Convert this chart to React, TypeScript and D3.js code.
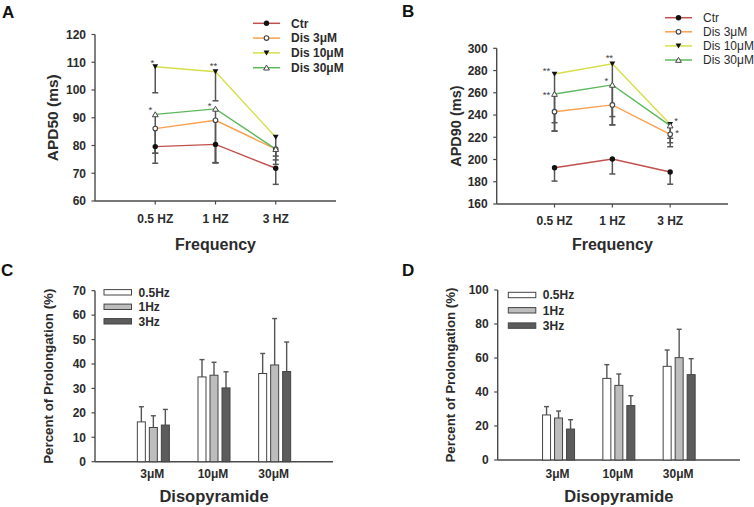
import React from 'react';
import * as d3 from 'd3';

// ---------- data ----------
const freqCats = ['0.5 HZ', '1 HZ', '3 HZ'];
const seriesNames = ['Ctr', 'Dis 3μM', 'Dis 10μM', 'Dis 30μM'];

const apd50Ctr = [79.6, 80.4, 71.8];
const apd50Dis3 = [86.1, 89.1, 78.7];
const apd50Dis10 = [108.4, 106.6, 83.0];
const apd50Dis30 = [91.2, 93.2, 78.7];
const apd50CtrErr = [6.0, 6.6, 5.8];
const apd50Dis3Err = [8.9, 15.3, 3.9];
const apd50Dis10Err = [9.4, 10.5, 6.8];
const apd50Dis30Err = [14.0, 19.4, 5.5];

const apd90Ctr = [192.6, 200.5, 188.8];
const apd90Dis3 = [243.0, 249.1, 222.7];
const apd90Dis10 = [276.9, 286.0, 231.7];
const apd90Dis30 = [258.9, 267.1, 230.5];
const apd90CtrErr = [12.0, 13.5, 11.0];
const apd90Dis3Err = [9.9, 10.5, 3.6];
const apd90Dis10Err = [51.3, 54.8, 16.6];
const apd90Dis30Err = [33.3, 36.0, 19.0];

const apd50Ticks = [60, 70, 80, 90, 100, 110, 120];
const apd90Ticks = [160, 180, 200, 220, 240, 260, 280, 300];

const doseCats = ['3μM', '10μM', '30μM'];
const freqSeries = ['0.5Hz', '1Hz', '3Hz'];

const prolC05 = [16.3, 34.7, 36.1];
const prolC1 = [14.0, 35.4, 39.6];
const prolC3 = [15.0, 30.2, 36.9];
const prolC05Err = [6.2, 7.1, 8.2];
const prolC1Err = [4.8, 5.3, 19.0];
const prolC3Err = [6.4, 6.6, 12.1];

const prolD05 = [26.5, 48.0, 55.1];
const prolD1 = [24.7, 43.9, 60.2];
const prolD3 = [18.2, 32.0, 50.2];
const prolD05Err = [4.9, 8.1, 9.6];
const prolD1Err = [4.1, 6.7, 16.7];
const prolD3Err = [5.5, 5.8, 9.4];

const prolCTicks = [0, 10, 20, 30, 40, 50, 60, 70];
const prolDTicks = [0, 20, 40, 60, 80, 100];

// significance marks: [category index, series index, label]
const sigA: [number, number, string][] = [[0, 2, '*'], [0, 3, '*'], [1, 2, '**'], [1, 3, '*']];
const sigB: [number, number, string][] = [[0, 2, '**'], [0, 3, '**'], [1, 2, '**'], [1, 3, '*'], [2, 2, '*'], [2, 3, '*']];

// ---------- styles ----------
const FONT = 'Liberation Sans, Arial, Helvetica, sans-serif';
const AXIS = '#4a4a4a';
const TXT = '#2b2b2b';
const lineColors = ['#c0504d', '#f9a04f', '#d6df4a', '#5cb85c'];
const barFills = ['#ffffff', '#bdbdbd', '#5c5c5c'];

const sigOffsetA = [[-3, -6], [-5, -7], [-2, -8], [-6, -5]];
const sigOffsetB = [[-8, -5], [-8, -2], [-3, -8], [-6, -6], [6, -6], [7, 5]];

function Marker({ kind, x, y }: { kind: number; x: number; y: number }) {
  if (kind === 0) return <circle cx={x} cy={y} r={2.7} fill="#111" />;
  if (kind === 1) return <circle cx={x} cy={y} r={2.3} fill="#fff" stroke="#444" strokeWidth={1.1} />;
  const s = 2.9;
  if (kind === 2)
    return <path d={`M${x - s},${y - s * 0.8}L${x + s},${y - s * 0.8}L${x},${y + s * 0.9}Z`} fill="#111" />;
  return (
    <path d={`M${x - s},${y + s * 0.8}L${x + s},${y + s * 0.8}L${x},${y - s * 0.9}Z`} fill="#fff" stroke="#444" strokeWidth={1} />
  );
}

type LineProps = {
  x0: number; x1: number; yTop: number; yBot: number; domain: [number, number]; ticks: number[];
  values: number[][]; errs: number[][]; sig: [number, number, string][]; sigOff: number[][];
  yLabel: string; yLabelX: number; yLabelSize: number; tickLabelY: number;
  legendX: number; legendY: number; legendStep: number; legendBold: boolean; letter: string; letterX: number; letterY: number;
};

function LinePanel(p: LineProps) {
  const x = d3.scalePoint<string>().domain(freqCats).range([p.x0, p.x1]).padding(1);
  const y = d3.scaleLinear().domain(p.domain).range([p.yBot, p.yTop]);
  const line = d3.line<number>().x((_, i) => x(freqCats[i])!).y((v) => y(v));
  return (
    <g fontFamily={FONT}>
      <text x={p.letterX} y={p.letterY} fontSize={17} fontWeight="bold" fill="#111">{p.letter}</text>
      {/* axes */}
      <line x1={p.x0} x2={p.x0} y1={p.yTop} y2={p.yBot} stroke={AXIS} strokeWidth={1.4} />
      <line x1={p.x0} x2={p.x1} y1={p.yBot} y2={p.yBot} stroke={AXIS} strokeWidth={1.4} />
      {p.ticks.map((t) => (
        <g key={t}>
          <line x1={p.x0 - 3.5} x2={p.x0} y1={y(t)} y2={y(t)} stroke={AXIS} strokeWidth={1.2} />
          <text x={p.x0 - 9} y={y(t) + 4.3} textAnchor="end" fontSize={12} fontWeight="bold" fill={TXT}>{t}</text>
        </g>
      ))}
      {freqCats.map((c) => (
        <g key={c}>
          <line x1={x(c)} x2={x(c)} y1={p.yBot} y2={p.yBot + 3.5} stroke={AXIS} strokeWidth={1.2} />
          <text x={x(c)} y={p.tickLabelY} textAnchor="middle" fontSize={12} fontWeight="bold" fill={TXT}>{c}</text>
        </g>
      ))}
      <text x={(p.x0 + p.x1) / 2} y={250} textAnchor="middle" fontSize={16} fontWeight="bold" fill={TXT}>Frequency</text>
      <text transform={`translate(${p.yLabelX},${(p.yTop + p.yBot) / 2}) rotate(-90)`} textAnchor="middle"
        dominantBaseline="central" fontSize={p.yLabelSize} fontWeight="bold" fill={TXT}>{p.yLabel}</text>
      {/* lines */}
      {p.values.map((vals, si) => (
        <path key={'l' + si} d={line(vals) || ''} fill="none" stroke={lineColors[si]} strokeWidth={1.4} />
      ))}
      {/* error bars (downward) */}
      {p.values.map((vals, si) =>
        vals.map((v, ci) => {
          const cx = x(freqCats[ci])!;
          const yl = y(v - p.errs[si][ci]);
          return (
            <g key={`e${si}-${ci}`} stroke="#555" strokeWidth={1.5}>
              <line x1={cx} x2={cx} y1={y(v)} y2={yl} />
              <line x1={cx - 3} x2={cx + 3} y1={yl} y2={yl} />
            </g>
          );
        })
      )}
      {/* markers */}
      {p.values.map((vals, si) =>
        vals.map((v, ci) => <Marker key={`m${si}-${ci}`} kind={si} x={x(freqCats[ci])!} y={y(v)} />)
      )}
      {/* significance */}
      {p.sig.map(([ci, si, lab], k) => (
        <text key={'s' + k} x={x(freqCats[ci])! + p.sigOff[k][0]} y={y(p.values[si][ci]) + p.sigOff[k][1] + 5.5}
          textAnchor="middle" fontSize={9.5} fill="#444">{lab}</text>
      ))}
      {/* legend */}
      {seriesNames.map((n, si) => {
        const ly = p.legendY + si * p.legendStep;
        return (
          <g key={'lg' + si}>
            <line x1={p.legendX} x2={p.legendX + 27} y1={ly} y2={ly} stroke={lineColors[si]} strokeWidth={1.5} />
            <Marker kind={si} x={p.legendX + 13.5} y={ly} />
            <text x={p.legendX + 38} y={ly + 4.3} fontSize={12} fontWeight={p.legendBold ? 'bold' : 'normal'} fill={TXT}>{n}</text>
          </g>
        );
      })}
    </g>
  );
}

type BarProps = {
  x0: number; x1: number; yTop: number; yBot: number; domainMax: number; ticks: number[];
  values: number[][]; errs: number[][]; pad: number;
  legendX: number; legendY: number; legendStep: number; letter: string; letterX: number; letterY: number;
};

function BarPanel(p: BarProps) {
  const x = d3.scalePoint<string>().domain(doseCats).range([p.x0, p.x1]).padding(p.pad);
  const inner = d3.scaleBand<string>().domain(freqSeries).range([-18, 18]).paddingInner(1 / 3).paddingOuter(1 / 6);
  const y = d3.scaleLinear().domain([0, p.domainMax]).range([p.yBot, p.yTop]);
  return (
    <g fontFamily={FONT}>
      <text x={p.letterX} y={p.letterY} fontSize={17} fontWeight="bold" fill="#111">{p.letter}</text>
      <line x1={p.x0} x2={p.x0} y1={p.yTop} y2={p.yBot} stroke={AXIS} strokeWidth={1.4} />
      <line x1={p.x0} x2={p.x1} y1={p.yBot} y2={p.yBot} stroke={AXIS} strokeWidth={1.4} />
      {p.ticks.map((t) => (
        <g key={t}>
          <line x1={p.x0 - 3.5} x2={p.x0} y1={y(t)} y2={y(t)} stroke={AXIS} strokeWidth={1.2} />
          <text x={p.x0 - 9} y={y(t) + 4.3} textAnchor="end" fontSize={12} fontWeight="bold" fill={TXT}>{t}</text>
        </g>
      ))}
      {doseCats.map((c) => (
        <text key={c} x={x(c)! - 1} y={477.5} textAnchor="middle" fontSize={12} fontWeight="bold" fill={TXT}>{c}</text>
      ))}
      <text x={(p.x0 + p.x1) / 2} y={502} textAnchor="middle" fontSize={16.5} fontWeight="bold" fill={TXT}>Disopyramide</text>
      <text transform={`translate(${p.x0 - 47},${(p.yTop + p.yBot) / 2}) rotate(-90)`} textAnchor="middle"
        dominantBaseline="central" fontSize={13.3} fontWeight="bold" fill={TXT}>Percent of Prolongation (%)</text>
      {p.values.map((vals, si) =>
        vals.map((v, ci) => {
          const bx = x(doseCats[ci])! + inner(freqSeries[si])!;
          const bw = inner.bandwidth();
          const cx = bx + bw / 2;
          const ye = y(v + p.errs[si][ci]);
          return (
            <g key={`b${si}-${ci}`}>
              <line x1={cx} x2={cx} y1={y(v)} y2={ye} stroke="#555" strokeWidth={1.4} />
              <line x1={cx - 2.5} x2={cx + 2.5} y1={ye} y2={ye} stroke="#555" strokeWidth={1.4} />
              <rect x={bx} y={y(v)} width={bw} height={p.yBot - y(v)} fill={barFills[si]} stroke="#444" strokeWidth={1} />
            </g>
          );
        })
      )}
      {freqSeries.map((n, si) => {
        const ly = p.legendY + si * p.legendStep;
        return (
          <g key={'lg' + si}>
            <rect x={p.legendX} y={ly - 2.7} width={27.5} height={5.4} fill={barFills[si]} stroke="#444" strokeWidth={1} />
            <text x={p.legendX + 34.5} y={ly + 4.3} fontSize={12} fontWeight="bold" fill={TXT}>{n}</text>
          </g>
        );
      })}
    </g>
  );
}

export default function App() {
  return (
    <svg width={754} height={507} style={{ position: 'absolute', left: 0, top: 0, background: '#fff' }}>
      <rect width={754} height={507} fill="#fff" />
      <LinePanel x0={95} x1={336} yTop={34.5} yBot={201} domain={[60, 120]} ticks={apd50Ticks}
        values={[apd50Ctr, apd50Dis3, apd50Dis10, apd50Dis30]}
        errs={[apd50CtrErr, apd50Dis3Err, apd50Dis10Err, apd50Dis30Err]}
        sig={sigA} sigOff={sigOffsetA} yLabel="APD50 (ms)" yLabelX={52} yLabelSize={15.5} tickLabelY={222.5}
        legendX={253} legendY={23.3} legendStep={14.8} legendBold={true} letter="A" letterX={2} letterY={18} />
      <LinePanel x0={496.7} x1={728} yTop={48.3} yBot={204} domain={[160, 300]} ticks={apd90Ticks}
        values={[apd90Ctr, apd90Dis3, apd90Dis10, apd90Dis30]}
        errs={[apd90CtrErr, apd90Dis3Err, apd90Dis10Err, apd90Dis30Err]}
        sig={sigB} sigOff={sigOffsetB} yLabel="APD90 (ms)" yLabelX={456} yLabelSize={14.5} tickLabelY={224.5}
        legendX={665} legendY={17.7} legendStep={14.1} legendBold={false} letter="B" letterX={402} letterY={17} />
      <BarPanel x0={95} x1={333} yTop={290.7} yBot={461.7} domainMax={70} ticks={prolCTicks}
        values={[prolC05, prolC1, prolC3]} errs={[prolC05Err, prolC1Err, prolC3Err]} pad={0.962}
        legendX={104} legendY={292.3} legendStep={14.5} letter="C" letterX={1} letterY={276} />
      <BarPanel x0={497.7} x1={740} yTop={290} yBot={460} domainMax={100} ticks={prolDTicks}
        values={[prolD05, prolD1, prolD3]} errs={[prolD05Err, prolD1Err, prolD3Err]} pad={1.009}
        legendX={508.3} legendY={295} legendStep={15.3} letter="D" letterX={402} letterY={276} />
    </svg>
  );
}
